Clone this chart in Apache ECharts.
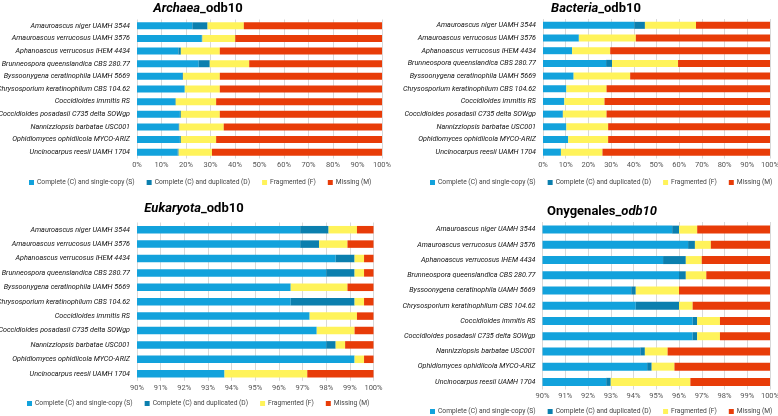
<!DOCTYPE html>
<html>
<head>
<meta charset="utf-8">
<script src="https://cdn.jsdelivr.net/npm/echarts@6/dist/echarts.min.js"></script>
<style>
  html, body { margin: 0; padding: 0; background: #fff; }
  #main { width: 778px; height: 416px; }
</style>
</head>
<body>
<div id="main"></div>
<script>
// 菌株名称
var strains = [
  'Amauroascus niger UAMH 3544',
  'Amauroascus verrucosus UAMH 3576',
  'Aphanoascus verrucosus IHEM 4434',
  'Brunneospora queenslandica CBS 280.77',
  'Byssoonygena ceratinophila UAMH 5669',
  'Chrysosporium keratinophilum CBS 104.62',
  'Coccidioides immitis RS',
  'Coccidioides posadasii C735 delta SOWgp',
  'Nannizziopsis barbatae USC001',
  'Ophidiomyces ophidiicola MYCO-ARIZ',
  'Uncinocarpus reesii UAMH 1704'
];
var seriesNames = ['Complete (C) and single-copy (S)', 'Complete (C) and duplicated (D)', 'Fragmented (F)', 'Missing (M)'];
var colors = ['#12a2dc', '#0b7fae', '#fff35a', '#e83c08'];

// Archaea_odb10
var archaeaS = [22.6, 26.4, 16.9, 25.2, 18.5, 19.5, 15.5, 17.5, 16.9, 17.5, 16.6];
var archaeaD = [6.2, 0.3, 1.0, 4.5, 0.3, 0.0, 0.3, 0.4, 0.4, 0.4, 0.4];
var archaeaF = [14.8, 13.4, 15.9, 16.1, 15.0, 14.3, 16.5, 15.9, 18.1, 14.4, 13.6];
var archaeaM = [56.4, 59.9, 66.2, 54.2, 66.2, 66.2, 67.7, 66.2, 64.6, 67.7, 69.4];

// Bacteria_odb10
var bacteriaS = [40.2, 15.8, 12.8, 27.8, 13.5, 10.3, 9.4, 8.6, 10.3, 11.1, 7.9];
var bacteriaD = [4.7, 0.0, 0.0, 2.6, 0.0, 0.0, 0.0, 0.2, 0.0, 0.0, 0.0];
var bacteriaF = [22.5, 25.1, 16.8, 29.1, 24.9, 17.7, 17.7, 19.2, 18.4, 17.6, 18.3];
var bacteriaM = [32.6, 59.1, 70.4, 40.5, 61.6, 72.0, 72.9, 72.0, 71.3, 71.3, 73.8];

// Eukaryota_odb10
var eukS = [96.9, 96.9, 98.4, 98.0, 96.5, 96.5, 97.3, 97.6, 98.0, 99.2, 93.7];
var eukD = [1.2, 0.8, 0.8, 1.2, 0.0, 2.7, 0.0, 0.0, 0.4, 0.0, 0.0];
var eukF = [1.2, 1.2, 0.4, 0.4, 2.4, 0.4, 2.0, 1.6, 0.4, 0.4, 3.5];
var eukM = [0.7, 1.1, 0.4, 0.4, 1.1, 0.4, 0.7, 0.8, 1.2, 0.4, 2.8];

// Onygenales_odb10
var onyS = [95.7, 96.4, 95.3, 96.0, 93.9, 94.1, 96.6, 96.6, 94.3, 94.6, 92.8];
var onyD = [0.3, 0.3, 1.0, 0.3, 0.2, 1.9, 0.2, 0.2, 0.2, 0.2, 0.2];
var onyF = [0.8, 0.7, 0.7, 0.9, 1.9, 0.6, 1.0, 1.0, 1.0, 1.0, 3.5];
var onyM = [3.2, 2.6, 3.0, 2.8, 4.0, 3.4, 2.2, 2.2, 4.5, 4.2, 3.5];

var panels = [
  { title: '{i|Archaea}{b|_odb10}', cx: 196, ty: 0, grid: { left: 137, top: 19.5, width: 245, height: 139 },
    min: 0, interval: 10, barW: 7, legendTop: 179, legendLeft: 29, data: [archaeaS, archaeaD, archaeaF, archaeaM] },
  { title: '{i|Bacteria}{b|_odb10}', cx: 594, ty: 0, grid: { left: 543, top: 19, width: 227, height: 139.5 },
    min: 0, interval: 10, barW: 7, legendTop: 179, legendLeft: 430, data: [bacteriaS, bacteriaD, bacteriaF, bacteriaM] },
  { title: '{i|Eukaryota}{b|_odb10}', cx: 192, ty: 200, grid: { left: 137, top: 222.5, width: 236.5, height: 158.4 },
    min: 90, interval: 1, barW: 7.5, legendTop: 400, legendLeft: 27, data: [eukS, eukD, eukF, eukM] },
  { title: '{b|Onygenales_}{i|odb10}', cx: 600, ty: 203, grid: { left: 542.5, top: 222, width: 227.5, height: 167.5 },
    min: 90, interval: 1, barW: 8, legendTop: 408, legendLeft: 430, data: [onyS, onyD, onyF, onyM] }
];

var FONT = "Roboto, 'Liberation Sans', sans-serif";
var chart = echarts.init(document.getElementById('main'));

var option = {
  animation: false,
  color: colors,
  title: [], grid: [], xAxis: [], yAxis: [], legend: [], series: []
};

panels.forEach(function(p, idx) {
  option.title.push({
    text: p.title,
    left: p.cx,
    top: p.ty,
    textAlign: 'center',
    padding: 2,
    textStyle: {
      rich: {
        i: { fontFamily: FONT, fontSize: 13, fontWeight: 'bold', fontStyle: 'italic', color: '#000' },
        b: { fontFamily: FONT, fontSize: 13, fontWeight: 'bold', color: '#000' }
      }
    }
  });
  var g = p.grid;
  g.containLabel = false;
  g.outerBoundsMode = 'none';
  option.grid.push(g);
  option.xAxis.push({
    type: 'value',
    gridIndex: idx,
    min: p.min,
    max: 100,
    interval: p.interval,
    axisLine: { show: false },
    axisTick: { show: false },
    splitLine: { lineStyle: { color: '#d9d9d9', width: 1 } },
    axisLabel: { formatter: '{value}%', fontFamily: FONT, fontSize: 7.5, color: '#555', margin: 3 }
  });
  option.yAxis.push({
    type: 'category',
    gridIndex: idx,
    inverse: true,
    data: strains,
    axisLine: { show: false },
    axisTick: { show: false },
    axisLabel: { fontFamily: FONT, fontSize: 7.2, fontStyle: 'italic', color: '#111', margin: 7 }
  });
  option.legend.push({
    left: p.legendLeft,
    top: p.legendTop,
    width: 420,
    padding: 0,
    icon: 'rect',
    itemWidth: 5,
    itemHeight: 5,
    itemGap: 12,
    textStyle: { fontFamily: FONT, fontSize: 6.7, color: '#444', padding: [0, 0, 0, -2] },
    data: seriesNames
  });
  p.data.forEach(function(vals, k) {
    option.series.push({
      name: seriesNames[k],
      type: 'bar',
      stack: 'busco' + idx,
      xAxisIndex: idx,
      yAxisIndex: idx,
      barWidth: p.barW,
      itemStyle: { color: colors[k] },
      data: vals
    });
  });
});

chart.setOption(option);
</script>
</body>
</html>
